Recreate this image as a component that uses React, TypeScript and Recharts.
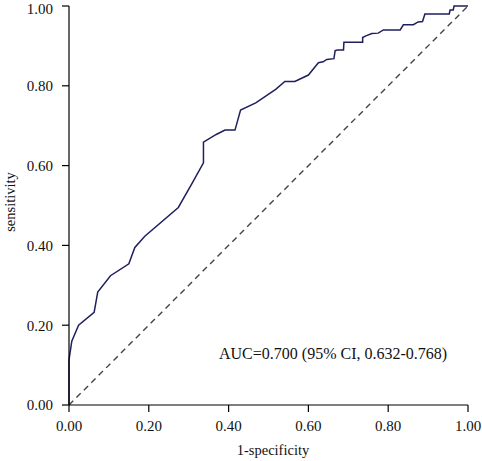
import { Line, LineChart, XAxis, YAxis } from "recharts";

// ROC curve points
const fpr = [
  0, 0, 0.007, 0.024, 0.063, 0.072, 0.104, 0.15, 0.165, 0.19, 0.274, 0.307,
  0.337, 0.337, 0.369, 0.391, 0.416, 0.43, 0.468, 0.518, 0.541, 0.566, 0.6,
  0.625, 0.637, 0.646, 0.664, 0.667, 0.673, 0.688, 0.689, 0.736, 0.736, 0.744,
  0.759, 0.775, 0.788, 0.83, 0.838, 0.863, 0.875, 0.886, 0.892, 0.953, 0.955,
  0.963, 0.965, 1,
];
const tpr = [
  0, 0.113, 0.16, 0.2, 0.232, 0.283, 0.324, 0.354, 0.395, 0.423, 0.495, 0.553,
  0.607, 0.659, 0.678, 0.689, 0.689, 0.739, 0.757, 0.791, 0.811, 0.811, 0.827,
  0.858, 0.86, 0.866, 0.868, 0.888, 0.89, 0.89, 0.909, 0.909, 0.921, 0.925,
  0.931, 0.932, 0.94, 0.94, 0.953, 0.953, 0.96, 0.961, 0.98, 0.98, 0.99, 0.99,
  1, 1,
];
const refFpr = [0, 1];
const refTpr = [0, 1];
const ticks = [0, 0.2, 0.4, 0.6, 0.8, 1];
const aucText = "AUC=0.700 (95% CI, 0.632-0.768)";

const FONT = "'Liberation Serif', 'Times New Roman', serif";

const roc = fpr.map((x, i) => ({ fpr: x, tpr: tpr[i] }));
const ref = refFpr.map((x, i) => ({ fpr: x, tpr: refTpr[i] }));

const tick = { fontSize: 15, fill: "#111", fontFamily: FONT };
const axisLine = { stroke: "#000", strokeWidth: 1.2 };

export default function App() {
  return (
    <div style={{ position: "absolute", left: 0, top: 0, background: "#fff" }}>
      <LineChart
        width={482}
        height={461}
        margin={{ top: 6, right: 14, left: 0, bottom: 0 }}
      >
        <XAxis
          type="number"
          dataKey="fpr"
          domain={[0, 1]}
          ticks={ticks}
          tickFormatter={(v: number) => v.toFixed(2)}
          tick={tick}
          tickSize={7}
          tickMargin={8}
          axisLine={axisLine}
          tickLine={axisLine}
          height={56}
          allowDuplicatedCategory={false}
        />
        <YAxis
          type="number"
          dataKey="tpr"
          domain={[0, 1]}
          ticks={ticks}
          tickFormatter={(v: number) => v.toFixed(2)}
          tick={tick}
          tickSize={7}
          tickMargin={9}
          axisLine={axisLine}
          tickLine={axisLine}
          width={69}
        />
        <Line
          data={ref}
          dataKey="tpr"
          type="linear"
          stroke="#444"
          strokeWidth={1.4}
          strokeDasharray="6 4.5"
          dot={false}
          activeDot={false}
          isAnimationActive={false}
        />
        <Line
          data={roc}
          dataKey="tpr"
          type="linear"
          stroke="#1f1f5e"
          strokeWidth={1.5}
          dot={false}
          activeDot={false}
          isAnimationActive={false}
        />
        <text x={219} y={359} fontSize={16} fontFamily={FONT} fill="#111">
          {aucText}
        </text>
        <text
          x={273}
          y={455}
          fontSize={14.5}
          fontFamily={FONT}
          fill="#111"
          textAnchor="middle"
        >
          1-specificity
        </text>
        <text
          x={15}
          y={202}
          fontSize={14.5}
          fontFamily={FONT}
          fill="#111"
          textAnchor="middle"
          transform="rotate(-90 15 202)"
        >
          sensitivity
        </text>
      </LineChart>
    </div>
  );
}
